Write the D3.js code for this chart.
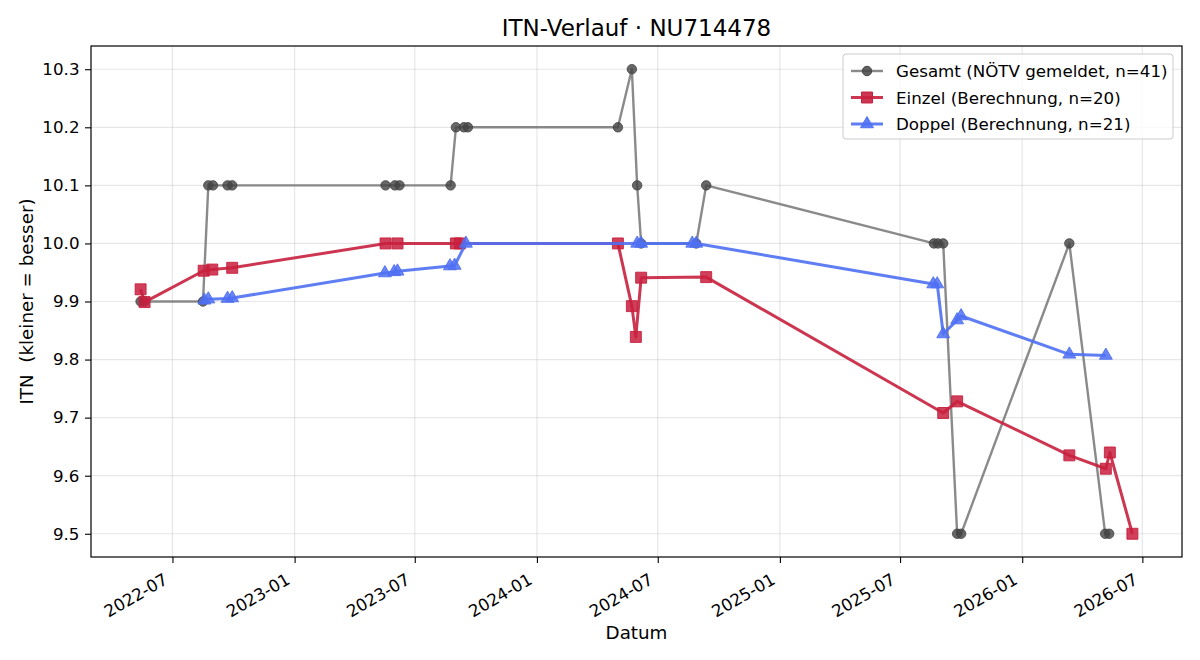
<!DOCTYPE html>
<html>
<head>
<meta charset="utf-8">
<script src="https://cdn.jsdelivr.net/npm/d3@7"></script>
<style>
  body { margin: 0; background: #fff; }
  svg, svg text { font-family: "DejaVu Sans", sans-serif; }
</style>
</head>
<body>
<svg id="chart" width="1200" height="660"></svg>
<script>
// Gesamt (NÖTV gemeldet)
var gesamtDates = ["2022-05-14","2022-05-20","2022-08-16","2022-08-24","2022-08-31","2022-09-22","2022-09-29",
  "2023-05-18","2023-06-01","2023-06-08","2023-08-24","2023-09-01","2023-09-13","2023-09-19",
  "2024-05-02","2024-05-23","2024-05-31","2024-06-06","2024-08-28","2024-09-12",
  "2025-08-21","2025-08-27","2025-09-04","2025-09-25","2025-10-01","2026-03-13","2026-05-06","2026-05-12"];
var gesamtValues = [9.9, 9.9, 9.9, 10.1, 10.1, 10.1, 10.1,
  10.1, 10.1, 10.1, 10.1, 10.2, 10.2, 10.2,
  10.2, 10.3, 10.1, 10.0, 10.0, 10.1,
  10.0, 10.0, 10.0, 9.5, 9.5, 10.0, 9.5, 9.5];

// Einzel (Berechnung)
var einzelDates = ["2022-05-14","2022-05-20","2022-08-17","2022-08-30","2022-09-29",
  "2023-05-18","2023-06-05","2023-09-01","2023-09-07",
  "2024-05-02","2024-05-23","2024-05-29","2024-06-06","2024-09-12",
  "2025-09-04","2025-09-25","2026-03-13","2026-05-07","2026-05-13","2026-06-16"];
var einzelValues = [9.921, 9.899, 9.953, 9.955, 9.958,
  10.0, 10.0, 10.0, 10.0,
  10.0, 9.892, 9.839, 9.941, 9.942,
  9.708, 9.728, 9.635, 9.612, 9.640, 9.5];

// Doppel (Berechnung)
var doppelDates = ["2022-08-18","2022-08-24","2022-09-22","2022-09-29",
  "2023-05-17","2023-05-31","2023-06-05","2023-08-23","2023-08-30","2023-09-16",
  "2024-05-31","2024-06-06","2024-08-22","2024-08-28",
  "2025-08-20","2025-08-26","2025-09-04","2025-09-25","2025-10-01","2026-03-13","2026-05-07"];
var doppelValues = [9.902, 9.904, 9.905, 9.906,
  9.949, 9.951, 9.952, 9.961, 9.962, 10.0,
  10.0, 10.0, 10.0, 10.0,
  9.930, 9.930, 9.844, 9.868, 9.875, 9.809, 9.807];

var yTicks = [9.5, 9.6, 9.7, 9.8, 9.9, 10.0, 10.1, 10.2, 10.3];
var xTicks = ["2022-07-01","2023-01-01","2023-07-01","2024-01-01","2024-07-01","2025-01-01","2025-07-01","2026-01-01","2026-07-01"];

var parse = d3.timeParse("%Y-%m-%d");
function zipSeries(dates, values) {
  return dates.map(function(d, i) { return { date: parse(d), value: values[i] }; });
}
var series = [
  { key: "Gesamt (NÖTV gemeldet, n=41)", data: zipSeries(gesamtDates, gesamtValues),
    line: "#757575", fill: "#444", width: 2.4, opacity: 0.85, marker: "circle", size: 70 },
  { key: "Einzel (Berechnung, n=20)", data: zipSeries(einzelDates, einzelValues),
    line: "#c8203e", fill: "#c8203e", width: 3, opacity: 0.9, marker: "square", size: 120 },
  { key: "Doppel (Berechnung, n=21)", data: zipSeries(doppelDates, doppelValues),
    line: "#4f70f2", fill: "#4f70f2", width: 3, opacity: 0.9, marker: "triangle", size: 72 }
];

var margin = { left: 91, right: 18, top: 46, bottom: 103 };
var W = 1200, H = 660;
var iw = W - margin.left - margin.right, ih = H - margin.top - margin.bottom;
var FS = 16.7, TICK_FS = 16.7, LABEL_FS = 18.3;

var svg = d3.select("#chart");
var g = svg.append("g").attr("transform", "translate(" + margin.left + "," + margin.top + ")");

// matplotlib-like 5% margins
var allDates = [], allVals = [];
series.forEach(function(s) { s.data.forEach(function(d) { allDates.push(+d.date); allVals.push(d.value); }); });
var dMin = d3.min(allDates), dMax = d3.max(allDates), dPad = (dMax - dMin) * 0.05;
var vMin = d3.min(allVals), vMax = d3.max(allVals), vPad = (vMax - vMin) * 0.05;

var x = d3.scaleTime().domain([new Date(dMin - dPad), new Date(dMax + dPad)]).range([0, iw]);
var y = d3.scaleLinear().domain([vMin - vPad, vMax + vPad]).range([ih, 0]);

// grid
g.append("g").selectAll("line").data(xTicks).enter().append("line")
  .attr("x1", function(d) { return x(parse(d)); }).attr("x2", function(d) { return x(parse(d)); })
  .attr("y1", 0).attr("y2", ih).attr("stroke", "#b0b0b0").attr("stroke-opacity", 0.3).attr("stroke-width", 1.2);
g.append("g").selectAll("line").data(yTicks).enter().append("line")
  .attr("y1", function(d) { return y(d); }).attr("y2", function(d) { return y(d); })
  .attr("x1", 0).attr("x2", iw).attr("stroke", "#b0b0b0").attr("stroke-opacity", 0.3).attr("stroke-width", 1.2);

// axes
var xAxis = g.append("g").attr("transform", "translate(0," + ih + ")")
  .call(d3.axisBottom(x).tickValues(xTicks.map(parse)).tickFormat(d3.timeFormat("%Y-%m")).tickSizeOuter(0).tickSize(6));
xAxis.attr("font-family", null).attr("font-size", null);
xAxis.select(".domain").remove();
xAxis.selectAll("text")
  .style("font-size", TICK_FS + "px").style("font-family", "'DejaVu Sans'").attr("fill", "#000")
  .attr("text-anchor", "end")
  .attr("y", 0).attr("dy", 0)
  .attr("transform", "translate(-4,26) rotate(-30)");
xAxis.selectAll("line").attr("stroke", "#000").attr("stroke-width", 1.1);

var yAxis = g.append("g")
  .call(d3.axisLeft(y).tickValues(yTicks).tickFormat(d3.format(".1f")).tickSizeOuter(0).tickSize(6));
yAxis.attr("font-family", null).attr("font-size", null);
yAxis.select(".domain").remove();
yAxis.selectAll("text").style("font-size", TICK_FS + "px").style("font-family", "'DejaVu Sans'")
  .attr("fill", "#000").attr("x", -11.5);
yAxis.selectAll("line").attr("stroke", "#000").attr("stroke-width", 1.1);

// series
var line = d3.line().x(function(d) { return x(d.date); }).y(function(d) { return y(d.value); });
function symbolType(m) {
  return m === "circle" ? d3.symbolCircle : m === "square" ? d3.symbolSquare : d3.symbolTriangle;
}
series.forEach(function(s) {
  var sg = g.append("g");
  sg.append("path").datum(s.data).attr("d", line)
    .attr("fill", "none").attr("stroke", s.line).attr("stroke-width", s.width)
    .attr("stroke-opacity", s.opacity).attr("stroke-linejoin", "round");
  var sym = d3.symbol().type(symbolType(s.marker)).size(s.size);
  sg.selectAll("path.pt").data(s.data).enter().append("path").attr("class", "pt")
    .attr("d", sym)
    .attr("transform", function(d) { return "translate(" + x(d.date) + "," + y(d.value) + ")"; })
    .attr("fill", s.fill).attr("fill-opacity", s.opacity * 0.95)
    .attr("stroke", s.fill).attr("stroke-opacity", s.opacity).attr("stroke-width", 1);
});

// frame
g.append("rect").attr("width", iw).attr("height", ih).attr("fill", "none").attr("stroke", "#000").attr("stroke-width", 1.2);

// labels
svg.append("text").attr("x", margin.left + iw / 2).attr("y", 36).attr("text-anchor", "middle")
  .attr("font-size", 23).text("ITN-Verlauf · NU714478");
svg.append("text").attr("x", margin.left + iw / 2).attr("y", 639).attr("text-anchor", "middle")
  .attr("font-size", LABEL_FS).text("Datum");
svg.append("text").attr("transform", "translate(33," + (margin.top + ih / 2) + ") rotate(-90)")
  .attr("text-anchor", "middle").attr("font-size", LABEL_FS).style("white-space", "pre")
  .text("ITN  (kleiner = besser)");

// legend
var lg = svg.append("g").attr("transform", "translate(843,54)");
lg.append("rect").attr("width", 330).attr("height", 85).attr("rx", 3)
  .attr("fill", "#fff").attr("fill-opacity", 0.8).attr("stroke", "#ccc");
series.forEach(function(s, i) {
  var row = lg.append("g").attr("transform", "translate(0," + (17 + i * 26.5) + ")");
  row.append("line").attr("x1", 8).attr("x2", 40).attr("stroke", s.line)
    .attr("stroke-width", s.width).attr("stroke-opacity", s.opacity);
  row.append("path").attr("d", d3.symbol().type(symbolType(s.marker)).size(s.size)())
    .attr("transform", "translate(24,0)").attr("fill", s.fill).attr("fill-opacity", s.opacity)
    .attr("stroke", s.fill).attr("stroke-width", 1);
  row.append("text").attr("x", 53).attr("y", 6).attr("font-size", FS).text(s.key);
});
</script>
</body>
</html>
